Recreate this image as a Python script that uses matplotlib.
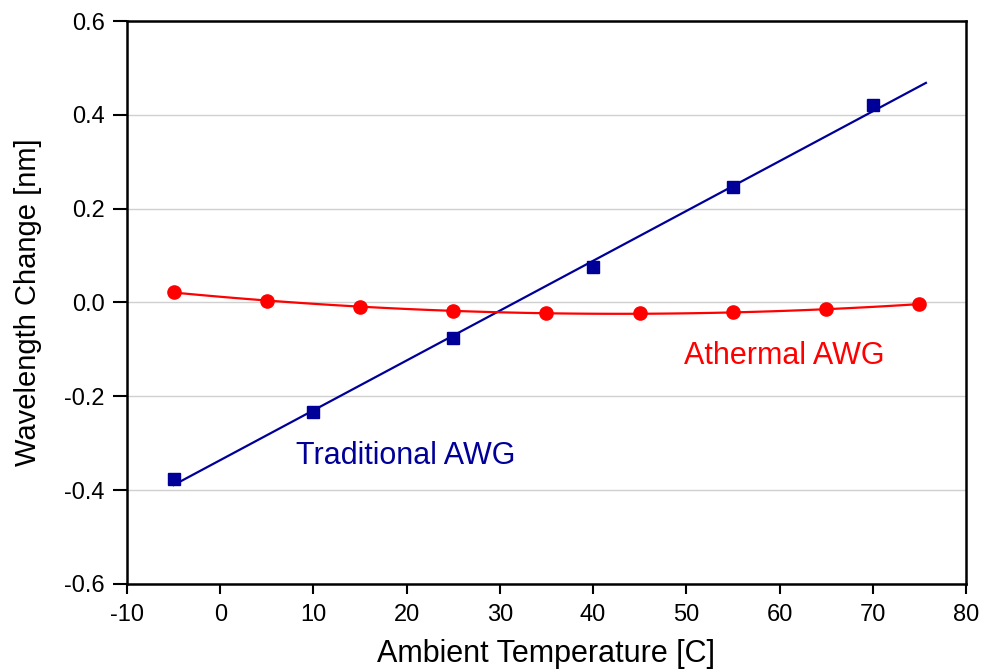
import numpy as np
import matplotlib
matplotlib.use('Agg')
import matplotlib.pyplot as plt

## Data:
temp_trad = [-5, 10, 25, 40, 55, 70]
shift_trad = [-0.377, -0.234, -0.076, 0.076, 0.246, 0.420]

temp_ath = [-5, 5, 15, 25, 35, 45, 55, 65, 75]
shift_ath = [0.022, 0.004, -0.010, -0.018, -0.023, -0.023, -0.021, -0.014, -0.004]

x_ticks = [-10, 0, 10, 20, 30, 40, 50, 60, 70, 80]
y_ticks = [-0.6, -0.4, -0.2, 0.0, 0.2, 0.4, 0.6]

blue = '#000099'
red = '#ff0000'

plt.rcParams['font.family'] = ['Liberation Sans', 'DejaVu Sans']
plt.rcParams['axes.unicode_minus'] = False

fig = plt.figure(figsize=(9.82, 6.71), dpi=100)
ax = fig.add_axes([0.1293, 0.1297, 0.8544, 0.839])

## Fit lines (linear for traditional, quadratic for athermal):
p_trad = np.polyfit(temp_trad, shift_trad, 1)
xf_trad = np.linspace(-5, 75.7, 100)
ax.plot(xf_trad, np.polyval(p_trad, xf_trad), color=blue, lw=1.6, zorder=3)

p_ath = np.polyfit(temp_ath, shift_ath, 2)
xf_ath = np.linspace(-5, 75, 100)
ax.plot(xf_ath, np.polyval(p_ath, xf_ath), color=red, lw=1.6, zorder=3)

ax.plot(temp_trad, shift_trad, 's', color=blue, ms=8.5, zorder=4)
ax.plot(temp_ath, shift_ath, 'o', color=red, ms=9.5, zorder=4)

ax.text(8.1, -0.344, 'Traditional AWG', color=blue, fontsize=22, va='baseline', ha='left')
ax.text(49.8, -0.132, 'Athermal AWG', color=red, fontsize=22, va='baseline', ha='left')

ax.set_xlim(-10, 80)
ax.set_ylim(-0.6, 0.6)
ax.set_xticks(x_ticks)
ax.set_yticks(y_ticks)
ax.set_yticklabels([f'{v:.1f}' for v in y_ticks])
ax.grid(axis='y', color='#d0d0d0', lw=1)
ax.set_axisbelow(True)

for s in ax.spines.values():
    s.set_linewidth(1.8)
ax.tick_params(direction='out', width=1.5, labelsize=17)
ax.tick_params(axis='x', length=7.5, pad=7)
ax.tick_params(axis='y', length=10, pad=6)

ax.set_xlabel('Ambient Temperature [C]', fontsize=22, labelpad=9)
ax.set_ylabel('Wavelength Change [nm]', fontsize=21, labelpad=16)

fig.savefig('out.png', dpi=100)
